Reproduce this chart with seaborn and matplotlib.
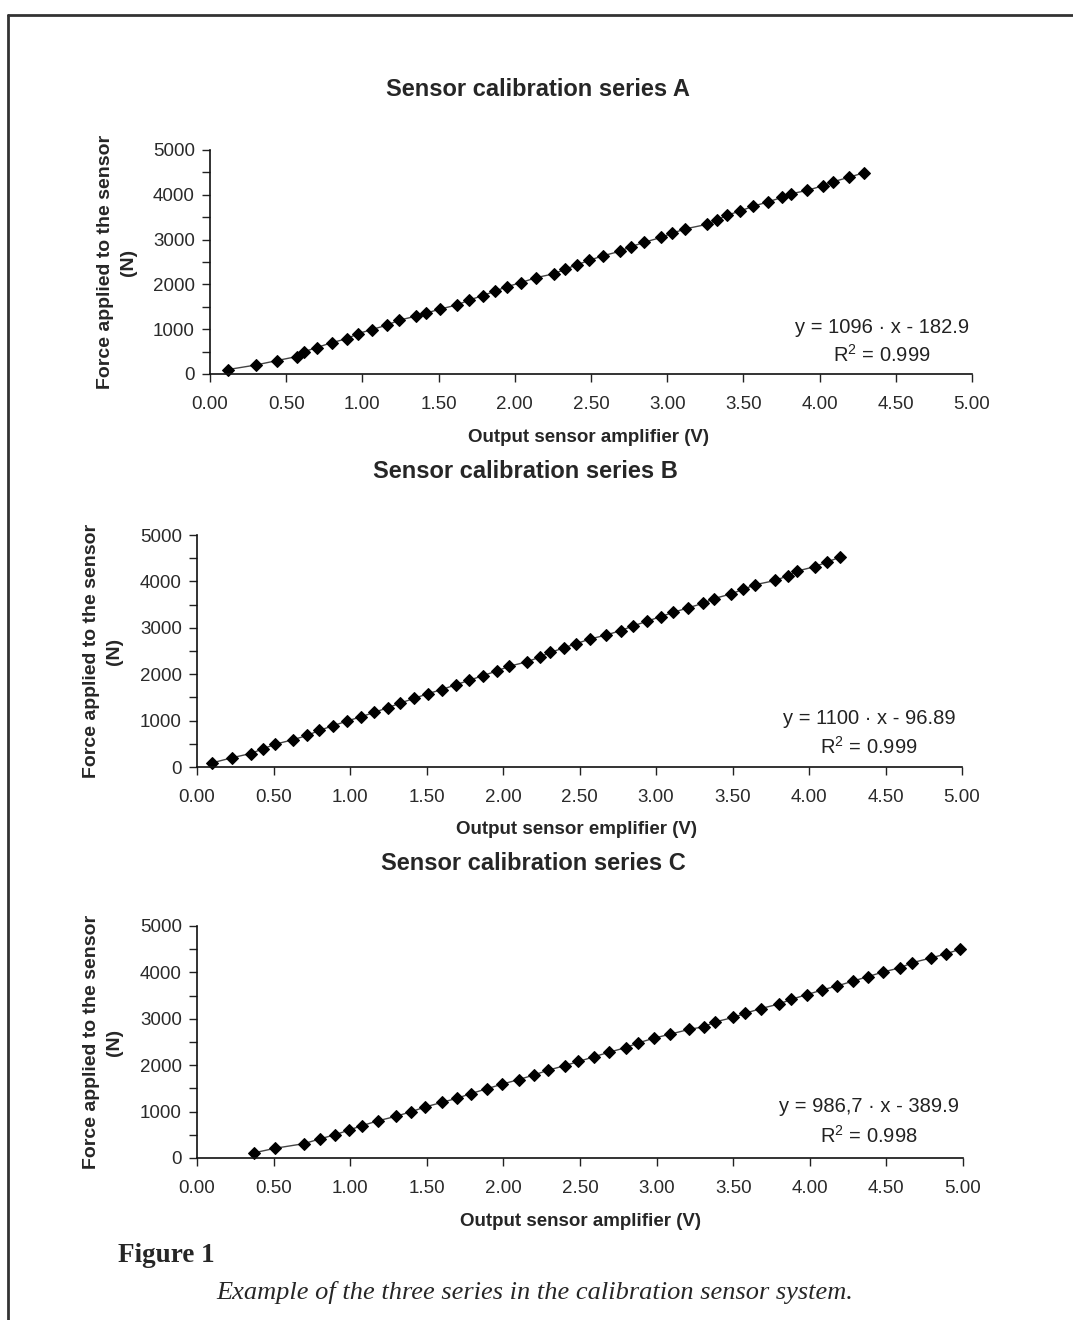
import numpy as np
import pandas as pd
import matplotlib
matplotlib.use("Agg")
import matplotlib.pyplot as plt
import seaborn as sns
from matplotlib.lines import Line2D

# values
volt_a = [0.12, 0.30, 0.44, 0.57, 0.62, 0.70, 0.80, 0.90, 0.97, 1.06,
          1.16, 1.24, 1.35, 1.42, 1.51, 1.62, 1.70, 1.79, 1.87, 1.95,
          2.04, 2.14, 2.26, 2.33, 2.41, 2.49, 2.58, 2.69, 2.76, 2.85,
          2.96, 3.03, 3.12, 3.26, 3.33, 3.39, 3.48, 3.56, 3.66, 3.75,
          3.81, 3.92, 4.02, 4.09, 4.19, 4.29]
force_a = [100, 200, 300, 390, 500, 590, 700, 790, 900, 990,
           1090, 1200, 1290, 1360, 1450, 1540, 1650, 1750, 1850, 1950,
           2040, 2150, 2240, 2340, 2440, 2540, 2640, 2740, 2840, 2940,
           3050, 3140, 3240, 3340, 3440, 3540, 3640, 3740, 3840, 3940,
           4020, 4100, 4200, 4290, 4390, 4490]

volt_b = [0.10, 0.23, 0.35, 0.43, 0.51, 0.63, 0.72, 0.80, 0.89, 0.98,
          1.07, 1.16, 1.25, 1.33, 1.42, 1.51, 1.60, 1.69, 1.78, 1.87,
          1.96, 2.04, 2.16, 2.24, 2.31, 2.40, 2.48, 2.57, 2.67, 2.77,
          2.85, 2.94, 3.03, 3.11, 3.21, 3.31, 3.38, 3.49, 3.57, 3.65,
          3.78, 3.86, 3.92, 4.04, 4.12, 4.20]
force_b = [90, 200, 290, 390, 490, 590, 680, 790, 890, 990,
           1080, 1180, 1280, 1380, 1480, 1580, 1670, 1770, 1870, 1970,
           2070, 2170, 2270, 2370, 2470, 2570, 2660, 2760, 2840, 2940,
           3040, 3140, 3240, 3330, 3430, 3530, 3630, 3730, 3830, 3930,
           4020, 4120, 4220, 4320, 4420, 4520]

volt_c = [0.37, 0.51, 0.70, 0.80, 0.90, 0.99, 1.08, 1.18, 1.30, 1.40,
          1.49, 1.60, 1.70, 1.79, 1.89, 1.99, 2.10, 2.20, 2.29, 2.40,
          2.49, 2.59, 2.69, 2.80, 2.88, 2.98, 3.09, 3.21, 3.31, 3.38,
          3.50, 3.58, 3.68, 3.80, 3.88, 3.98, 4.08, 4.18, 4.28, 4.38,
          4.48, 4.59, 4.67, 4.79, 4.89, 4.98]
force_c = [110, 210, 310, 410, 500, 600, 700, 800, 900, 1000,
           1100, 1200, 1290, 1390, 1490, 1590, 1690, 1790, 1890, 1990,
           2080, 2180, 2280, 2380, 2480, 2580, 2670, 2770, 2830, 2930,
           3030, 3120, 3220, 3320, 3420, 3520, 3620, 3710, 3810, 3910,
           4010, 4100, 4210, 4310, 4400, 4500]

titles = ["Sensor calibration series A", "Sensor calibration series B",
          "Sensor calibration series C"]
x_labels = ["Output sensor amplifier (V)", "Output sensor emplifier (V)",
            "Output sensor amplifier (V)"]
y_label = "Force applied to the sensor\n(N)"
fit_eq = ["y = 1096 · x - 182.9", "y = 1100 · x - 96.89", "y = 986,7 · x - 389.9"]
fit_r2 = ["0.999", "0.999", "0.998"]
x_ticks = [0.0, 0.5, 1.0, 1.5, 2.0, 2.5, 3.0, 3.5, 4.0, 4.5, 5.0]
y_ticks = [0, 1000, 2000, 3000, 4000, 5000]
y_minor = [500, 1500, 2500, 3500, 4500]

series = [(volt_a, force_a), (volt_b, force_b), (volt_c, force_c)]

W, H = 1073, 1320
sns.set_theme(style="ticks")
plt.rcParams["font.family"] = ["Liberation Sans", "DejaVu Sans"]
plt.rcParams["mathtext.fontset"] = "custom"
plt.rcParams["mathtext.rm"] = "Liberation Sans"
plt.rcParams["mathtext.it"] = "Liberation Sans"

fig = plt.figure(figsize=(W / 100, H / 100), dpi=100)


def fx(px):
    return px / W


def fy(py):
    return 1 - py / H


# panel layout in pixels: left, top, right, bottom
boxes = [(210, 150, 972, 374), (197, 535, 962, 767), (197, 926, 963, 1158)]
title_pos = [(538, 90), (525, 471), (533, 863)]
xlab_pos = [(588, 437), (577, 830), (580, 1221)]
ylab_x = [117, 103, 103]
fit_pos = [(882, 327, 355), (869, 719, 747), (869, 1107, 1136)]

for i, (vx, fz) in enumerate(series):
    l, t, r, b = boxes[i]
    ax = fig.add_axes([fx(l), fy(b), (r - l) / W, (b - t) / H])
    df = pd.DataFrame({"volt": vx, "force": fz})
    sns.lineplot(data=df, x="volt", y="force", ax=ax, sort=False,
                 estimator=None, color="#444444", linewidth=1.0,
                 marker="D", markersize=6, markerfacecolor="black",
                 markeredgecolor="black", clip_on=False)
    ax.set_xlim(0, 5)
    ax.set_ylim(0, 5000)
    ax.set_xticks(x_ticks)
    ax.set_xticklabels([f"{v:.2f}" for v in x_ticks])
    ax.set_yticks(y_ticks)
    ax.set_yticks(y_minor, minor=True)
    ax.tick_params(axis="both", which="both", direction="out", length=6,
                   width=1, color="#222222", labelsize=13.5,
                   labelcolor="#2a2a2a")
    ax.tick_params(axis="y", pad=5)
    ax.tick_params(axis="x", pad=10)
    sns.despine(ax=ax)
    for s in ["left", "bottom"]:
        ax.spines[s].set_color("#111111")
        ax.spines[s].set_linewidth(1.2)

    ax.set_xlabel(x_labels[i], fontsize=13.5, fontweight="bold")
    ax.xaxis.set_label_coords((xlab_pos[i][0] - l) / (r - l),
                              (b - xlab_pos[i][1]) / (b - t))
    ax.xaxis.label.set_va("center")
    ax.set_ylabel(y_label, fontsize=14, fontweight="bold", linespacing=1.45)
    ax.yaxis.set_label_coords((ylab_x[i] - l) / (r - l), 0.5)
    ax.yaxis.label.set_va("center")

    fig.text(fx(title_pos[i][0]), fy(title_pos[i][1]), titles[i],
             ha="center", va="center", fontsize=17, fontweight="bold")
    ex, ey, ry = fit_pos[i]
    fig.text(fx(ex), fy(ey), fit_eq[i], ha="center", va="center",
             fontsize=14.5, color="#222222")
    fig.text(fx(ex), fy(ry), "R$^2$ = " + fit_r2[i], ha="center", va="center",
             fontsize=14.5, color="#222222")

fig.text(fx(118), fy(1255), "Figure 1", ha="left", va="center",
         fontsize=19.5, fontweight="bold", family="Liberation Serif")
fig.text(fx(535), fy(1292),
         "Example of the three series in the calibration sensor system.",
         ha="center", va="center", fontsize=19, style="italic",
         family="Liberation Serif")

# page frame
fig.add_artist(Line2D([fx(8), 1], [fy(15), fy(15)], color="#333333", lw=2))
fig.add_artist(Line2D([fx(8), fx(8)], [fy(15), 0], color="#333333", lw=2))

plt.savefig("out.png", dpi=100)
plt.close()
